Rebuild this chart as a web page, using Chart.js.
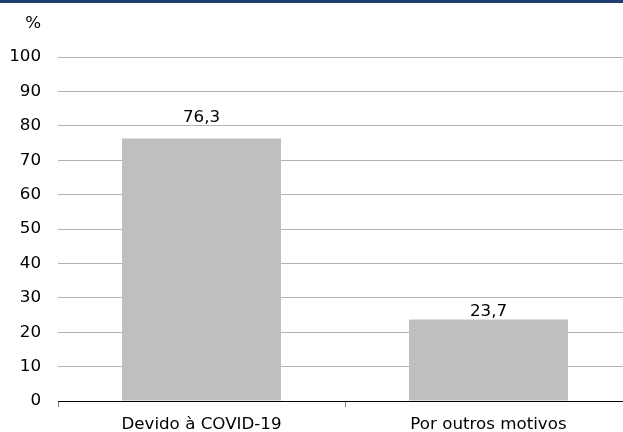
<!DOCTYPE html>
<html>
<head>
<meta charset="utf-8">
<script src="https://cdn.jsdelivr.net/npm/chart.js@4/dist/chart.umd.min.js"></script>
<style>
    html, body { margin: 0; padding: 0; background: #fff; overflow: hidden; }
    .topline { position: absolute; left: 0; top: 0; width: 623px; height: 3px; background: #1f3f73; }
    .wrap { position: absolute; left: 0; top: 0; width: 640px; height: 432px; }
    canvas { display: block; }
</style>
</head>
<body>
<div class="wrap"><canvas id="chart" width="640" height="432"></canvas></div>
<div class="topline"></div>
<script>
// Data
const categories = ['Devido à COVID-19', 'Por outros motivos'];
const values = [76.3, 23.7];
const yTicks = [0, 10, 20, 30, 40, 50, 60, 70, 80, 90, 100];

const fontFamily = 'Tahoma, "DejaVu Sans", sans-serif';
const fontSize = 16.7;

function fmt(v) {
    return v.toFixed(1).replace('.', ',');
}

// labels above bars + "%" unit
const labelPlugin = {
    id: 'labelPlugin',
    afterDatasetsDraw(chart, args, opts) {
        const ctx = chart.ctx;
        ctx.save();
        ctx.fillStyle = '#000';
        ctx.font = fontSize + 'px ' + fontFamily;
        ctx.textAlign = 'center';
        ctx.textBaseline = 'alphabetic';
        chart.getDatasetMeta(0).data.forEach((bar, i) => {
            ctx.fillText(fmt(values[i]), bar.x, bar.y - opts.offsets[i]);
        });
        ctx.textAlign = 'right';
        ctx.textBaseline = 'middle';
        ctx.fillText('%', chart.scales.y.right - 17, 24);
        ctx.restore();
    }
};

const ctx = document.getElementById('chart').getContext('2d');
new Chart(ctx, {
    type: 'bar',
    data: {
        labels: categories,
        datasets: [{
            data: values,
            backgroundColor: '#bfbfbf',
            borderWidth: 0,
            categoryPercentage: 0.554,
            barPercentage: 1
        }]
    },
    options: {
        responsive: false,
        animation: false,
        devicePixelRatio: 1,
        layout: { padding: { top: 57, right: 8, left: 0, bottom: 0 } },
        plugins: {
            legend: { display: false },
            tooltip: { enabled: false },
            labelPlugin: { offsets: [17, 3] }
        },
        scales: {
            x: {
                grid: {
                    offset: true,
                    drawOnChartArea: false,
                    tickLength: 6,
                    color: '#808080'
                },
                border: { display: true, color: '#000', width: 1 },
                ticks: {
                    color: '#000',
                    font: { size: fontSize, family: fontFamily },
                    padding: 8,
                    maxRotation: 0,
                    autoSkip: false
                },
                afterFit(scale) { scale.height = 31; }
            },
            y: {
                min: 0,
                max: 100,
                afterBuildTicks(scale) { scale.ticks = yTicks.map(v => ({ value: v })); },
                grid: {
                    color: '#b4b4b4',
                    drawTicks: false
                },
                border: { display: false },
                ticks: {
                    color: '#000',
                    font: { size: fontSize, family: fontFamily },
                    padding: 17,
                    autoSkip: false
                },
                afterFit(scale) { scale.width = 58; }
            }
        }
    },
    plugins: [labelPlugin]
});
</script>
</body>
</html>
